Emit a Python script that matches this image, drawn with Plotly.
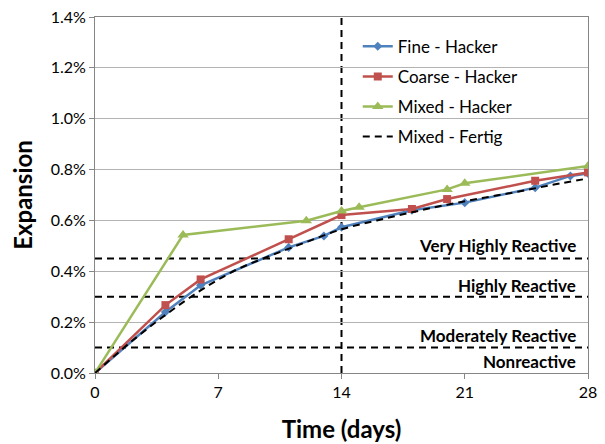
import plotly.graph_objects as go

# expansion readings (%)
fine_days = [0, 4, 6, 11, 13, 14, 18, 21, 25, 27, 28]
fine_exp = [0.0, 0.24, 0.345, 0.494, 0.539, 0.573, 0.640, 0.670, 0.729, 0.775, 0.785]

coarse_days = [0, 4, 6, 11, 14, 18, 20, 25, 28]
coarse_exp = [0.0, 0.267, 0.368, 0.526, 0.621, 0.645, 0.684, 0.756, 0.789]

mixed_days = [0, 5, 12, 14, 15, 20, 21, 28]
mixed_exp = [0.0, 0.543, 0.599, 0.637, 0.652, 0.722, 0.746, 0.814]

fertig_days = [0, 2, 4, 6, 8, 10, 12, 14, 16, 18, 20, 22, 24, 26, 28]
fertig_exp = [0.0, 0.12, 0.228, 0.325, 0.405, 0.462, 0.515, 0.565, 0.600, 0.632, 0.662, 0.688, 0.713, 0.740, 0.765]

# reactivity thresholds (%) and labels
thresholds = [0.1, 0.3, 0.45]
class_labels = ["Nonreactive", "Moderately Reactive", "Highly Reactive", "Very Highly Reactive"]
class_label_y = [0.044, 0.149, 0.343, 0.503]

test_day = 14

x_ticks = [0, 7, 14, 21, 28]
y_ticks = [0.0, 0.2, 0.4, 0.6, 0.8, 1.0, 1.2, 1.4]

FONT = "Lato, Open Sans, sans-serif"
DASH = "7px,5px"

fig = go.Figure()

fig.add_trace(go.Scatter(
    x=fine_days, y=fine_exp, name="Fine - Hacker", mode="lines+markers",
    line=dict(color="#4F81BD", width=2.5),
    marker=dict(symbol="diamond", size=7, color="#4F81BD"),
    legendgroup="a",
))
fig.add_trace(go.Scatter(
    x=coarse_days, y=coarse_exp, name="Coarse - Hacker", mode="lines+markers",
    line=dict(color="#C0504D", width=2.5),
    marker=dict(symbol="square", size=8, color="#C0504D"),
    legendgroup="b",
))
fig.add_trace(go.Scatter(
    x=mixed_days, y=mixed_exp, name="Mixed - Hacker", mode="lines+markers",
    line=dict(color="#9BBB59", width=2.5),
    marker=dict(symbol="triangle-up", size=10, color="#9BBB59"),
    legendgroup="c",
))
fig.add_trace(go.Scatter(
    x=fertig_days, y=fertig_exp, name="Mixed - Fertig", mode="lines",
    line=dict(color="black", width=2, dash=DASH, shape="spline"),
    legendgroup="d",
))

# threshold lines
for t in thresholds:
    fig.add_shape(type="line", xref="x", yref="y", x0=x_ticks[0], x1=x_ticks[-1], y0=t, y1=t,
                  line=dict(color="black", width=2, dash=DASH), layer="below")

fig.add_shape(type="line", xref="x", yref="y", x0=test_day, x1=test_day, y0=y_ticks[0], y1=y_ticks[-1],
              line=dict(color="black", width=2, dash=DASH), layer="below")

for lab, yy in zip(class_labels, class_label_y):
    fig.add_annotation(x=0.98, xref="paper", y=yy, yref="y", text=f"<b>{lab}</b>",
                       showarrow=False, xanchor="right", yanchor="middle",
                       font=dict(family=FONT, size=17, color="black"))

# page body has an 8px margin, so the figure is a bit smaller than the window
fig.update_layout(
    width=597, height=436,
    margin=dict(l=87, r=17, t=9, b=71),
    plot_bgcolor="white", paper_bgcolor="white",
    font=dict(family=FONT, size=16, color="black"),
    legend=dict(
        x=0.533, y=0.967, xanchor="left", yanchor="top",
        bgcolor="rgba(0,0,0,0)", font=dict(family=FONT, size=17),
        tracegroupgap=5, itemwidth=30,
    ),
    xaxis=dict(
        range=[0, 28], tickvals=x_ticks, showgrid=False, zeroline=False,
        showline=True, linecolor="#868686", linewidth=1, mirror=True,
        ticks="outside", ticklen=5, tickcolor="#868686",
        ticklabeloverflow="allow", automargin=False,
        title=dict(text="<b>Time (days)</b>", font=dict(family=FONT, size=24), standoff=20),
    ),
    yaxis=dict(
        range=[0, 1.4], tickvals=y_ticks, ticktext=[f"{v:.1f}%" for v in y_ticks],
        showgrid=True, gridcolor="#B3B3B3", gridwidth=1, zeroline=False,
        showline=True, linecolor="#868686", linewidth=1, mirror=True,
        ticks="outside", ticklen=5, tickcolor="#868686",
        ticklabeloverflow="allow", automargin=False,
        title=dict(text="<b>Expansion</b>", font=dict(family=FONT, size=24), standoff=14),
    ),
)

fig.write_html("out.html")
